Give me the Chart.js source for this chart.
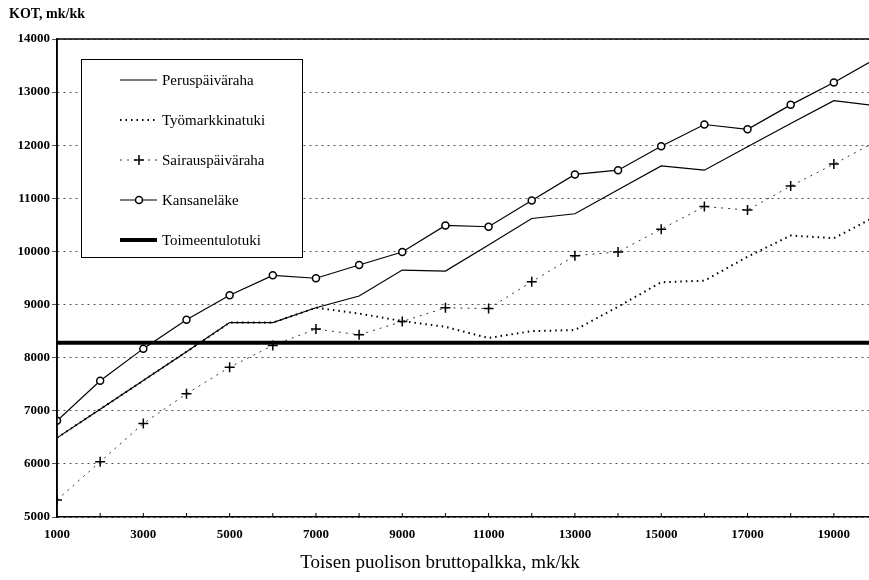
<!DOCTYPE html>
<html>
<head>
<meta charset="utf-8">
<script src="https://cdn.jsdelivr.net/npm/chart.js@4/dist/chart.umd.min.js"></script>
<style>
  html, body { margin: 0; padding: 0; background: #fff; overflow: hidden; }
  #wrap { width: 869px; height: 580px; overflow: hidden; }
  canvas { display: block; }
</style>
</head>
<body>
<div id="wrap"><canvas id="kotChart" width="884" height="580"></canvas></div>
<script>
// toisen puolison bruttopalkka, mk/kk
const palkka = [1000, 2000, 3000, 4000, 5000, 6000, 7000, 8000, 9000, 10000,
  11000, 12000, 13000, 14000, 15000, 16000, 17000, 18000, 19000, 20000];

const peruspaivaraha = [6490, 7030, 7570, 8110, 8660, 8660, 8940, 9160, 9650, 9630,
  10120, 10620, 10710, 11160, 11610, 11530, 11970, 12410, 12840, 12740];
const tyomarkkinatuki = [6490, 7030, 7570, 8110, 8660, 8660, 8940, 8830, 8690, 8580,
  8370, 8500, 8520, 8960, 9420, 9450, 9900, 10300, 10250, 10670];
const sairauspaivaraha = [5320, 6040, 6760, 7320, 7820, 8230, 8540, 8430, 8680, 8940,
  8925, 9430, 9920, 9990, 10420, 10845, 10780, 11230, 11645, 12080];
const kansanelake = [6810, 7565, 8170, 8715, 9175, 9550, 9495, 9745, 9990, 10490,
  10465, 10960, 11450, 11530, 11980, 12390, 12300, 12760, 13180, 13640];
const toimeentulotuki = [8280, 8280, 8280, 8280, 8280, 8280, 8280, 8280, 8280, 8280,
  8280, 8280, 8280, 8280, 8280, 8280, 8280, 8280, 8280, 8280];

const yTicks = [5000, 6000, 7000, 8000, 9000, 10000, 11000, 12000, 13000, 14000];
const xLabels = [1000, 3000, 5000, 7000, 9000, 11000, 13000, 15000, 17000, 19000];

const yTitle = "KOT, mk/kk";
const xTitle = "Toisen puolison bruttopalkka, mk/kk";
const serif = '"Liberation Serif", "Times New Roman", serif';

function pts(arr) {
  return palkka.map((x, i) => ({ x: x, y: arr[i] }));
}

// akseliviivat, otsikot ja selite laatikossa
const kehys = {
  id: "kehys",
  afterDraw(chart) {
    const ctx = chart.ctx;
    const a = chart.chartArea;
    const x = chart.scales.x;
    ctx.save();
    ctx.strokeStyle = "#000";
    ctx.lineWidth = 1.5;
    ctx.setLineDash([]);
    ctx.beginPath();
    ctx.moveTo(a.left, a.bottom);
    ctx.lineTo(a.left, a.top);
    ctx.lineTo(a.right, a.top);
    ctx.stroke();

    ctx.lineWidth = 1;
    palkka.forEach(v => {
      const px = x.getPixelForValue(v);
      ctx.beginPath();
      ctx.moveTo(px, a.bottom);
      ctx.lineTo(px, a.bottom - 4);
      ctx.stroke();
    });

    ctx.fillStyle = "#000";
    ctx.textBaseline = "middle";
    ctx.textAlign = "left";
    ctx.font = "bold 14px " + serif;
    ctx.fillText(yTitle, 9, 14);
    ctx.textAlign = "center";
    ctx.font = "19px " + serif;
    ctx.fillText(xTitle, 440, 563);

    // selite
    ctx.fillStyle = "#fff";
    ctx.fillRect(81, 59, 221, 198);
    ctx.strokeStyle = "#000";
    ctx.lineWidth = 1;
    ctx.strokeRect(81.5, 59.5, 221, 198);
    ctx.font = "15px " + serif;
    ctx.textAlign = "left";
    chart.data.datasets.forEach((ds, i) => {
      const y = 80 + i * 40;
      ctx.strokeStyle = ds.borderColor;
      ctx.lineWidth = ds.borderWidth;
      ctx.setLineDash(ds.borderDash || []);
      ctx.beginPath();
      ctx.moveTo(120, y);
      ctx.lineTo(157, y);
      ctx.stroke();
      ctx.setLineDash([]);
      if (ds.pointRadius > 0) {
        ctx.fillStyle = ds.pointBackgroundColor;
        ctx.strokeStyle = ds.pointBorderColor;
        ctx.lineWidth = ds.pointBorderWidth;
        Chart.helpers.drawPoint(ctx, {
          pointStyle: ds.pointStyle,
          radius: ds.pointRadius,
          borderWidth: ds.pointBorderWidth,
          rotation: 0
        }, 139, y);
      }
      ctx.fillStyle = "#000";
      ctx.fillText(ds.label, 162, y + 1);
    });
    ctx.restore();
  }
};

const ctxK = document.getElementById("kotChart").getContext("2d");
const kotChart = new Chart(ctxK, {
  type: "line",
  data: {
    datasets: [
      {
        label: "Peruspäiväraha",
        data: pts(peruspaivaraha),
        borderColor: "#000",
        borderWidth: 1.2,
        pointRadius: 0
      },
      {
        label: "Työmarkkinatuki",
        data: pts(tyomarkkinatuki),
        borderColor: "#000",
        borderWidth: 2,
        borderDash: [1.5, 4],
        pointRadius: 0
      },
      {
        label: "Sairauspäiväraha",
        data: pts(sairauspaivaraha),
        borderColor: "#000",
        borderWidth: 0.8,
        borderDash: [2, 5],
        pointStyle: "cross",
        pointRadius: 5,
        pointBorderWidth: 1.5,
        pointBorderColor: "#000",
        pointBackgroundColor: "#000"
      },
      {
        label: "Kansaneläke",
        data: pts(kansanelake),
        borderColor: "#000",
        borderWidth: 1.2,
        pointStyle: "circle",
        pointRadius: 3.5,
        pointBorderWidth: 1.5,
        pointBorderColor: "#000",
        pointBackgroundColor: "#fff"
      },
      {
        label: "Toimeentulotuki",
        data: pts(toimeentulotuki),
        borderColor: "#000",
        borderWidth: 4,
        pointRadius: 0
      }
    ]
  },
  options: {
    responsive: false,
    animation: false,
    events: [],
    layout: { padding: { top: 39, right: 7, left: 0, bottom: 0 } },
    elements: { line: { tension: 0 } },
    plugins: {
      legend: { display: false },
      tooltip: { enabled: false }
    },
    scales: {
      x: {
        type: "linear",
        min: 1000,
        max: 20000,
        afterBuildTicks: s => { s.ticks = xLabels.map(v => ({ value: v })); },
        ticks: {
          autoSkip: false,
          maxRotation: 0,
          padding: 10,
          color: "#000",
          font: { family: serif, size: 13, weight: "bold" },
          callback: v => String(v)
        },
        grid: { drawOnChartArea: false, drawTicks: false },
        border: { color: "#000", width: 1.5 },
        afterFit: s => { s.height = 63; }
      },
      y: {
        min: 5000,
        max: 14000,
        afterBuildTicks: s => { s.ticks = yTicks.map(v => ({ value: v })); },
        ticks: {
          padding: 2,
          color: "#000",
          font: { family: serif, size: 13, weight: "bold" },
          callback: v => String(v)
        },
        grid: { color: "#555", lineWidth: 1, tickLength: 5 },
        border: { color: "#000", width: 1.5, dash: [2, 4] },
        afterFit: s => { s.width = 57; }
      }
    }
  },
  plugins: [kehys]
});
</script>
</body>
</html>
